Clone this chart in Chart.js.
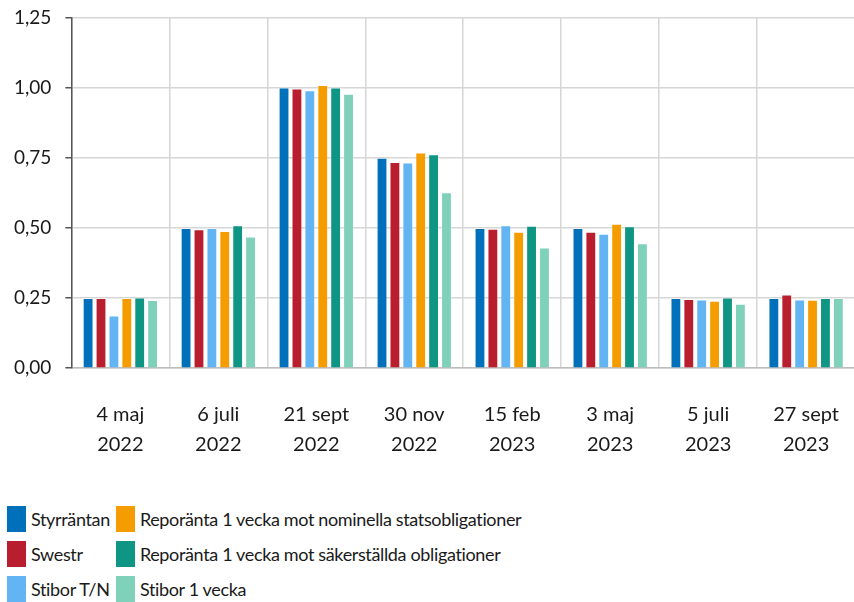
<!DOCTYPE html>
<html>
<head>
<meta charset="utf-8">
<script src="https://cdn.jsdelivr.net/npm/chart.js@4.4.1/dist/chart.umd.min.js"></script>
<style>
  html, body { margin: 0; padding: 0; background: #fff; overflow: hidden; }
  body { width: 854px; height: 602px; position: relative; font-family: Lato, "Open Sans", sans-serif; color: #1a1a1a; }
  #wrap { position: absolute; left: 0; top: -8px; width: 870px; height: 511px; }
  #legend { position: absolute; left: 7px; top: 506px; display: grid; grid-template-columns: auto auto; column-gap: 6px; row-gap: 9px; justify-content: start; }
  .item { display: flex; align-items: center; height: 26px; font-size: 18px; letter-spacing: -0.35px; white-space: nowrap; }
  .sw { width: 19px; height: 26px; margin-right: 5px; flex: none; }
</style>
</head>
<body>
<div id="wrap"><canvas id="c"></canvas></div>
<div id="legend"></div>
<script>
// Datum för penningpolitiska beslut
const labels = [
  ['4 maj', '2022'], ['6 juli', '2022'], ['21 sept', '2022'], ['30 nov', '2022'],
  ['15 feb', '2023'], ['3 maj', '2023'], ['5 juli', '2023'], ['27 sept', '2023']
];

const seriesNames = [
  'Styrräntan', 'Swestr', 'Stibor T/N',
  'Reporänta 1 vecka mot nominella statsobligationer',
  'Reporänta 1 vecka mot säkerställda obligationer',
  'Stibor 1 vecka'
];
const seriesColors = ['#0070ba', '#b81e2d', '#62b4f3', '#f59c00', '#0f9583', '#7fd1ba'];

const styrrantan = [0.25, 0.50, 1.00, 0.75, 0.50, 0.50, 0.25, 0.25];
const swestr     = [0.25, 0.495, 0.997, 0.735, 0.497, 0.486, 0.247, 0.263];
const stiborTN   = [0.188, 0.50, 0.99, 0.733, 0.509, 0.479, 0.245, 0.245];
const repoNom    = [0.25, 0.489, 1.009, 0.769, 0.486, 0.515, 0.24, 0.244];
const repoSak    = [0.252, 0.509, 1.00, 0.762, 0.508, 0.506, 0.252, 0.25];
const stibor1v   = [0.243, 0.469, 0.978, 0.627, 0.43, 0.445, 0.23, 0.25];

const yTicks = [0, 0.25, 0.5, 0.75, 1.0, 1.25];

const allData = [styrrantan, swestr, stiborTN, repoNom, repoSak, stibor1v];

const datasets = allData.map(function (d, i) {
  return {
    label: seriesNames[i],
    data: d,
    backgroundColor: seriesColors[i],
    borderColor: 'rgba(255,255,255,0.35)',
    borderWidth: 1,
    categoryPercentage: 0.79,
    barPercentage: 0.84
  };
});

new Chart(document.getElementById('c'), {
  type: 'bar',
  data: { labels: labels, datasets: datasets },
  options: {
    responsive: true,
    maintainAspectRatio: false,
    animation: false,
    layout: { padding: { left: 0, right: 0, top: 0, bottom: 12 } },
    plugins: { legend: { display: false }, tooltip: { enabled: false } },
    scales: {
      x: {
        grid: { color: '#d6d6d6', lineWidth: 1.5, tickLength: 0, offset: true },
        border: { color: '#bdbdbd', width: 1.5 },
        ticks: { color: '#1a1a1a', padding: 31, font: { family: 'Lato', size: 20, lineHeight: 1.52 }, maxRotation: 0 }
      },
      y: {
        min: 0, max: 1.25,
        afterBuildTicks: function (axis) {
          axis.ticks = yTicks.map(function (v) { return { value: v }; });
        },
        grid: { color: '#d6d6d6', lineWidth: 1.5, tickLength: 6, tickColor: '#555' },
        border: { color: '#555', width: 1.5 },
        ticks: {
          color: '#1a1a1a', padding: 14,
          font: { family: 'Lato', size: 19 },
          callback: function (v) { return Number(v).toFixed(2).replace('.', ','); }
        }
      }
    }
  }
});

// Egen legend i två kolumner
const order = [0, 3, 1, 4, 2, 5];
const leg = document.getElementById('legend');
order.forEach(function (i) {
  const it = document.createElement('div');
  it.className = 'item';
  it.innerHTML = '<span class="sw" style="background:' + seriesColors[i] + '"></span>' + seriesNames[i];
  leg.appendChild(it);
});
</script>
</body>
</html>
